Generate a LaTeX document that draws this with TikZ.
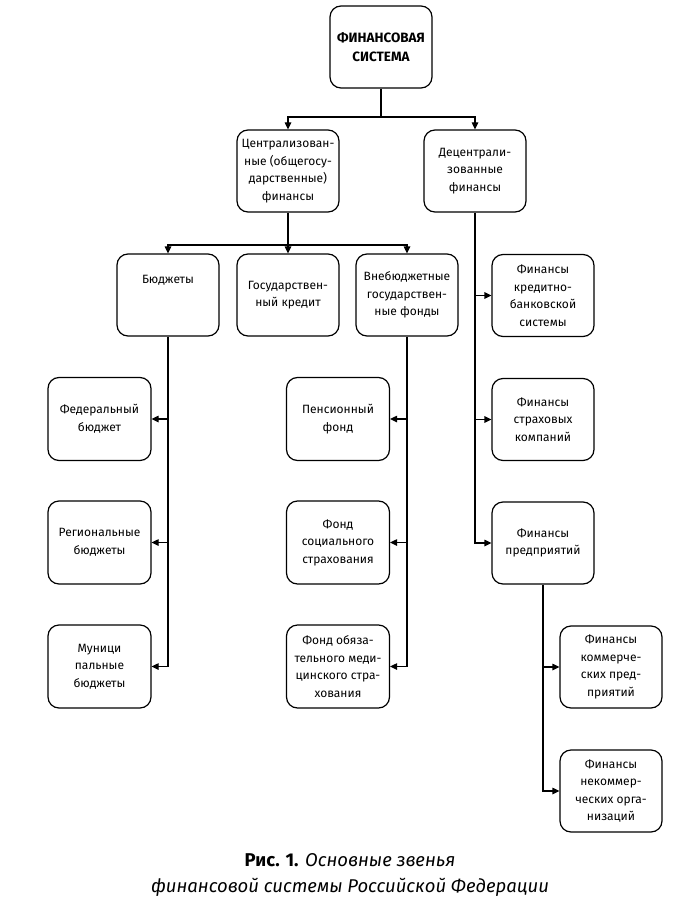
\documentclass[tikz,border=0pt]{standalone}
\usepackage{fontspec}
\setmainfont{Fira Sans}
\usetikzlibrary{arrows.meta}
\begin{document}
\begin{tikzpicture}[x=1pt,y=-1pt,
  txt/.style={align=center,inner sep=2pt,font=\fontsize{12}{17.5}\selectfont},
  box/.style={txt,draw,line width=1.2pt,rounded corners=11pt},
  b82/.style={box,minimum width=102pt,minimum height=82pt},
  b84/.style={box,minimum width=103pt,minimum height=83pt},
  ln/.style={line width=1.2pt},
  arr/.style={ln,-{Triangle[length=7pt,width=6.5pt]}}]
\useasboundingbox (0,0) rectangle (691,912);
% nodes
\node[b82,font=\fontsize{13.5}{19}\selectfont\bfseries] (top) at (381,47) {ФИНАНСОВАЯ\\СИСТЕМА};
\node[b82] (cent) at (288,171) {Централизован-\\ные (общегосу-\\дарственные)\\финансы};
\node[b82] (decent) at (475,171) {Децентрали-\\зованные\\финансы};
\node[b82] (budg) at (168,295) {};
\node[txt,anchor=base] (budgt) at (168,283) {Бюджеты};
\node[b82] (kred) at (288,295) {Государствен-\\ный кредит};
\node[b82] (vneb) at (407,295) {Внебюджетные\\государствен-\\ные фонды};
\node[b82] (kb) at (543,295.5) {Финансы\\кредитно-\\банковской\\системы};
\node[b82] (strah) at (543,419.5) {Финансы\\страховых\\компаний};
\node[b82] (pred) at (543,543) {Финансы\\предприятий};
\node[b84] (fed) at (99.5,419) {Федеральный\\бюджет};
\node[b84] (reg) at (99.5,542.5) {Региональные\\бюджеты};
\node[b84] (mun) at (99.5,666.5) {Муници\\пальные\\бюджеты};
\node[b84] (pens) at (338,419) {Пенсионный\\фонд};
\node[b84] (soc) at (338,542.5) {Фонд\\социального\\страхования};
\node[b84] (oms) at (338,666.5) {Фонд обяза-\\тельного меди-\\цинского стра-\\хования};
\node[b82] (kom) at (611,667) {Финансы\\коммерче-\\ских пред-\\приятий};
\node[b82] (nekom) at (611,791) {Финансы\\некоммер-\\ческих орга-\\низаций};
% junctions
\coordinate (j1) at (381,117);
\coordinate (j2) at (288,245);
% connectors
\draw[ln] (top.south) -- (j1);
\draw[arr] (j1) -| (cent.north);
\draw[arr] (j1) -| (decent.north);
\draw[ln] (cent.south) -- (j2);
\draw[arr] (j2) -- (kred.north);
\draw[arr] (j2) -| (budg.north);
\draw[arr] (j2) -| (vneb.north);
\draw[arr] (budg.south) |- (mun.east);
\draw[arr] (budg.south |- fed.east) -- (fed.east);
\draw[arr] (budg.south |- reg.east) -- (reg.east);
\draw[arr] (vneb.south) |- (oms.east);
\draw[arr] (vneb.south |- pens.east) -- (pens.east);
\draw[arr] (vneb.south |- soc.east) -- (soc.east);
\draw[arr] (decent.south) |- (pred.west);
\draw[arr] (decent.south |- kb.west) -- (kb.west);
\draw[arr] (decent.south |- strah.west) -- (strah.west);
\draw[arr] (pred.south) |- (nekom.west);
\draw[arr] (pred.south |- kom.west) -- (kom.west);
% caption
\node[align=center,font=\fontsize{18.5}{26}\selectfont] (cap) at (350,875)
  {\textbf{Рис. 1.} \textit{Основные звенья}\\\textit{финансовой системы Российской Федерации}};
\end{tikzpicture}
\end{document}
